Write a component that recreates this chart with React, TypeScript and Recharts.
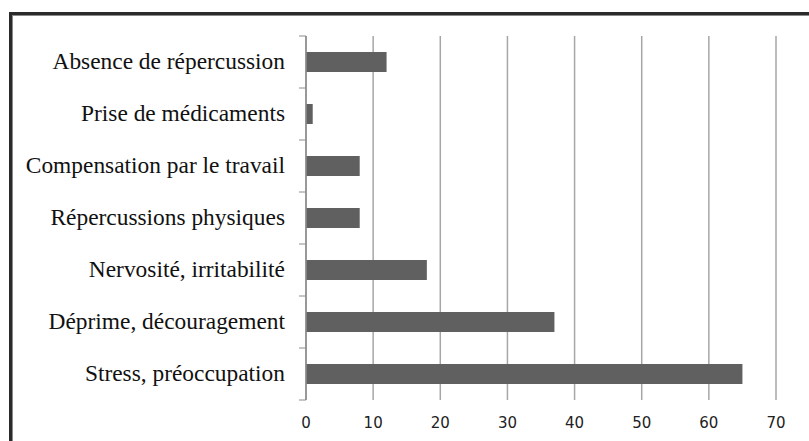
import { BarChart, Bar, XAxis, YAxis, CartesianGrid } from "recharts";

const categories = [
  "Absence de répercussion",
  "Prise de médicaments",
  "Compensation par le travail",
  "Répercussions physiques",
  "Nervosité, irritabilité",
  "Déprime, découragement",
  "Stress, préoccupation",
];
const values = [12, 1, 8, 8, 18, 37, 65];
const xTicks = [0, 10, 20, 30, 40, 50, 60, 70];

const data = categories.map((c, i) => ({ name: c, value: values[i] }));

const W = 809;
const H = 441;
const PLOT_LEFT = 306;
const PLOT_RIGHT = 776;
const TOP = 36;
const BOTTOM = 41;
const BAND = (H - TOP - BOTTOM) / categories.length;

function CatTick(props: any) {
  const { y, payload, index } = props;
  const last = index === categories.length - 1;
  return (
    <g>
      <line x1={PLOT_LEFT - 7} x2={PLOT_LEFT} y1={y - BAND / 2} y2={y - BAND / 2} stroke="#8c8c8c" />
      {last && (
        <line x1={PLOT_LEFT - 7} x2={PLOT_LEFT} y1={y + BAND / 2} y2={y + BAND / 2} stroke="#8c8c8c" />
      )}
      <text
        x={PLOT_LEFT - 21}
        y={y}
        dy="0.32em"
        textAnchor="end"
        fill="#111"
        fontFamily="'Liberation Serif', 'Times New Roman', 'DejaVu Serif', serif"
        fontSize={23.4}
      >
        {payload.value}
      </text>
    </g>
  );
}

function NumTick(props: any) {
  const { x, y, payload } = props;
  return (
    <text
      x={x}
      y={y}
      dy="0.71em"
      textAnchor="middle"
      fill="#222"
      fontFamily="'DejaVu Sans', Verdana, sans-serif"
      fontSize={15}
    >
      {payload.value}
    </text>
  );
}

export default function App() {
  return (
    <div style={{ position: "absolute", left: 0, top: 0, width: W, height: H, overflow: "hidden", background: "#fff" }}>
      <div
        style={{
          position: "absolute",
          left: 9,
          top: 12,
          width: 830,
          height: 460,
          border: "3px solid #2a2a2a",
          boxShadow: "inset 1px 1px 0 #8a8a8a",
        }}
      />
      <div style={{ position: "absolute", left: 0, top: 0 }}>
        <BarChart
          width={W}
          height={H}
          data={data}
          layout="vertical"
          margin={{ top: TOP, right: W - PLOT_RIGHT, bottom: 11, left: 0 }}
        >
          <CartesianGrid horizontal={false} stroke="#a6a6a6" strokeWidth={1.5} />
          <XAxis
            type="number"
            domain={[0, 70]}
            ticks={xTicks}
            axisLine={false}
            tickLine={false}
            tickMargin={11}
            height={30}
            tick={<NumTick />}
          />
          <YAxis
            type="category"
            dataKey="name"
            width={PLOT_LEFT}
            axisLine={{ stroke: "#8c8c8c", strokeWidth: 1.5 }}
            tickLine={false}
            tick={<CatTick />}
            interval={0}
          />
          <Bar dataKey="value" fill="#606060" barSize={20} isAnimationActive={false} />
        </BarChart>
      </div>
    </div>
  );
}
